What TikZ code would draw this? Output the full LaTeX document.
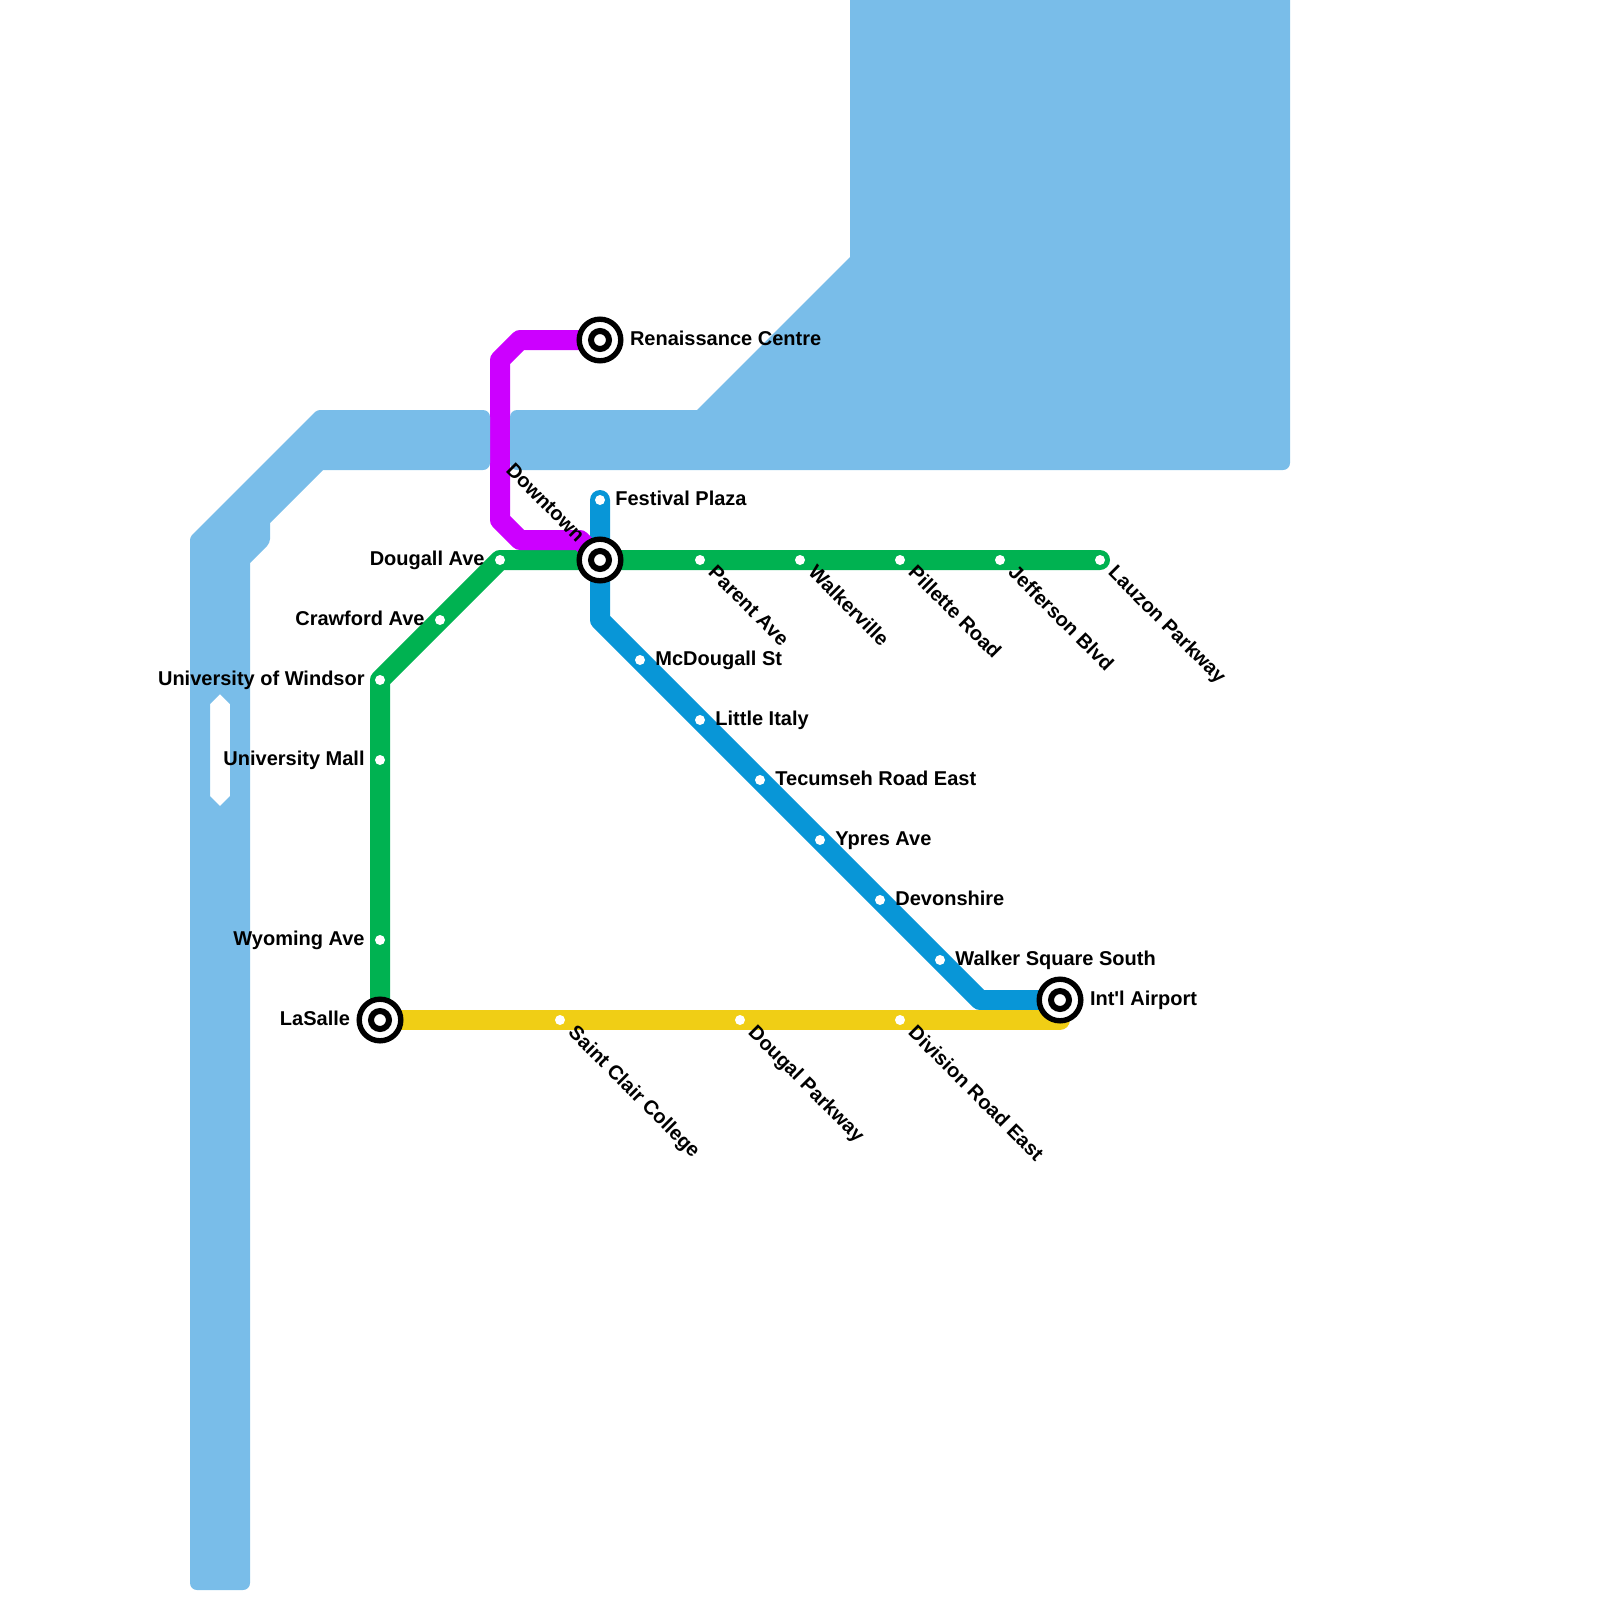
\documentclass[tikz,border=0pt]{standalone}
\usepackage{fontspec}
\setmainfont{Liberation Sans}[Ligatures=TeXOff]
\usetikzlibrary{backgrounds, positioning}

\begin{document}
\begin{tikzpicture}[
			x=1pt, y=-1pt,
			node distance=10pt,
			water/.style={fill=waterblue},
			metro/.style={line width=20pt, line cap=round, line join=round},
			stn/.style={circle, fill=white, minimum size=10pt, inner sep=0pt},
			hub/.style={circle, fill=white, draw=black, line width=5.4pt, minimum size=41.6pt, inner sep=0pt, outer sep=0pt,
				path picture={\draw[black, line width=6pt] (path picture bounding box.center) circle (9pt);}},
			lbl/.style={font=\fontsize{20}{20}\selectfont\bfseries, inner sep=0pt, text height=14pt, text depth=4pt},
			tilted/.style={lbl, rotate=-45, anchor=west}
			]
			\definecolor{waterblue}{HTML}{79BDE9}
			\definecolor{linegreen}{HTML}{00B251}
			\definecolor{lineblue}{HTML}{0896D7}
			\definecolor{linepurple}{HTML}{CC00FF}
			\definecolor{lineyellow}{HTML}{F0CE15}
			\useasboundingbox (0,0) rectangle (1600,1600);
			
			% Water
			\fill[water, even odd rule, rounded corners=7pt] (220,1590) -- (190,1590) [rounded corners=3pt] -- (190,537) -- (317,410) [rounded corners=7pt] -- (490,410) -- (490,470) [sharp corners] -- (323,470) -- (270,523) [rounded corners=4pt] -- (270,543) [sharp corners] -- (250,563) [rounded corners=7pt] -- (250,1590) -- cycle
				[sharp corners] (210,704) -- (220,694) -- (230,704) -- (230,796) -- (220,806) -- (210,796) -- cycle;
			\fill[water, rounded corners=7pt] (510,470) -- (510,410) [sharp corners] -- (697,410) -- (850,257) -- (850,0) -- (1290,0) [rounded corners=7pt] -- (1290,470) -- cycle;
			
			% Bends
			\coordinate (p1) at (520,340);
			\coordinate (p2) at (500,360);
			\coordinate (p3) at (500,520);
			\coordinate (p4) at (520,540);
			\coordinate (p5) at (580,540);
			\coordinate (b1) at (600,620);
			\coordinate (b2) at (980,1000);
			\coordinate (y1) at (1060,1020);
			
			% Stations
			\node[hub] (lasalle) at (380,1020) {};
			\node[hub] (downtown) at (600,560) {};
			\node[hub] (renaissance) at (600,340) {};
			\node[hub] (airport) at (1060,1000) {};
			
			\node[stn] (wyoming) at (380,940) {};
			\node[stn] (unimall) at (380,760) {};
			\node[stn] (uwindsor) at (380,680) {};
			\node[stn] (crawford) at (440,620) {};
			\node[stn] (dougall) at (500,560) {};
			\node[stn] (parent) at (700,560) {};
			\node[stn] (walkerville) at (800,560) {};
			\node[stn] (pillette) at (900,560) {};
			\node[stn] (jefferson) at (1000,560) {};
			\node[stn] (lauzon) at (1100,560) {};
			
			\node[stn] (festival) at (600,500) {};
			\node[stn] (mcdougall) at (640,660) {};
			\node[stn] (littleitaly) at (700,720) {};
			\node[stn] (tecumseh) at (760,780) {};
			\node[stn] (ypres) at (820,840) {};
			\node[stn] (devonshire) at (880,900) {};
			\node[stn] (walkersq) at (940,960) {};
			
			\node[stn] (stclair) at (560,1020) {};
			\node[stn] (dougalpkwy) at (740,1020) {};
			\node[stn] (division) at (900,1020) {};
			
			% Lines
			\begin{scope}[on background layer]
				\draw[metro, lineblue] (festival.center) -- (downtown.center) -- (b1) -- (b2) -- (airport.center);
				\draw[metro, linegreen] (lasalle.center) -- (uwindsor.center) -- (dougall.center) -- (lauzon.center);
				\draw[metro, linepurple] (renaissance.center) -- (p1) -- (p2) -- (p3) -- (p4) -- (p5) -- (downtown.center);
				\draw[metro, lineyellow] (lasalle.center) -- (y1) -- (airport.center);
			\end{scope}
			
			% Labels
			\node[lbl, left=9pt of lasalle] (lasalle-l) {LaSalle};
			\node[lbl, left=of wyoming] (wyoming-l) {Wyoming Ave};
			\node[lbl, left=of unimall] (unimall-l) {University Mall};
			\node[lbl, left=of uwindsor] (uwindsor-l) {University of Windsor};
			\node[lbl, left=of crawford] (crawford-l) {Crawford Ave};
			\node[lbl, left=of dougall] (dougall-l) {Dougall Ave};
			\node[lbl, right=9pt of renaissance] (renaissance-l) {Renaissance Centre};
			\node[lbl, right=of festival] (festival-l) {Festival Plaza};
			\node[lbl, right=of mcdougall] (mcdougall-l) {McDougall St};
			\node[lbl, right=of littleitaly] (littleitaly-l) {Little Italy};
			\node[lbl, right=of tecumseh] (tecumseh-l) {Tecumseh Road East};
			\node[lbl, right=of ypres] (ypres-l) {Ypres Ave};
			\node[lbl, right=of devonshire] (devonshire-l) {Devonshire};
			\node[lbl, right=of walkersq] (walkersq-l) {Walker Square South};
			\node[lbl, right=9pt of airport] (airport-l) {Int'l Airport};
			
			\node[tilted, below right=6.5pt and 7pt of parent, anchor=west] (parent-l) {Parent Ave};
			\node[tilted, below right=6.5pt and 7pt of walkerville, anchor=west] (walkerville-l) {Walkerville};
			\node[tilted, below right=6.5pt and 7pt of pillette, anchor=west] (pillette-l) {Pillette Road};
			\node[tilted, below right=6.5pt and 7pt of jefferson, anchor=west] (jefferson-l) {Jefferson Blvd};
			\node[tilted, below right=6.5pt and 7pt of lauzon, anchor=west] (lauzon-l) {Lauzon Parkway};
			\node[tilted, below right=6.5pt and 7pt of stclair, anchor=west] (stclair-l) {Saint Clair College};
			\node[tilted, below right=6.5pt and 7pt of dougalpkwy, anchor=west] (dougalpkwy-l) {Dougal Parkway};
			\node[tilted, below right=6.5pt and 7pt of division, anchor=west] (division-l) {Division Road East};
			\node[tilted, above left=6pt and 5pt of downtown, anchor=east] (downtown-l) {Downtown};
			
		\end{tikzpicture}
\end{document}
